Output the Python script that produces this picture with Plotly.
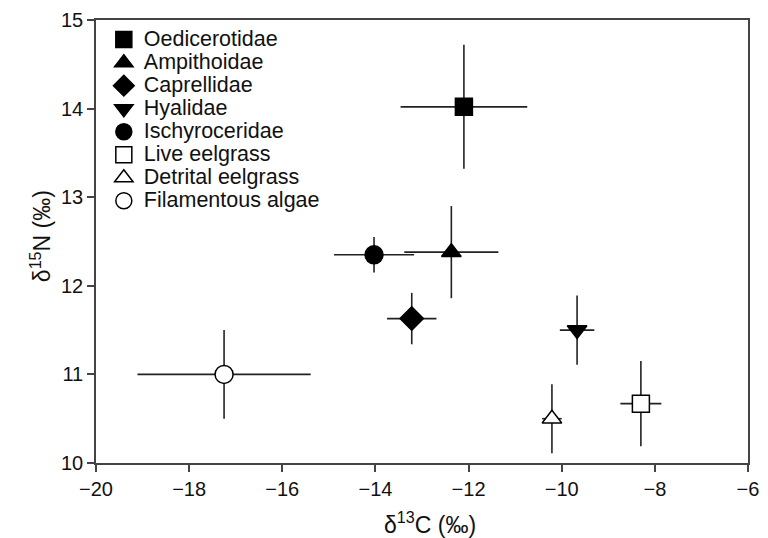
import plotly.graph_objects as go

names = ["Oedicerotidae", "Ampithoidae", "Caprellidae", "Hyalidae", "Ischyroceridae",
         "Live eelgrass", "Detrital eelgrass", "Filamentous algae"]
d13c = [-12.10, -12.37, -13.22, -9.67, -14.03, -8.30, -10.21, -17.25]
d13c_err = [1.36, 1.01, 0.53, 0.37, 0.86, 0.44, 0.21, 1.86]
d15n = [14.02, 12.38, 11.63, 11.50, 12.35, 10.67, 10.50, 11.00]
d15n_err = [0.70, 0.52, 0.29, 0.39, 0.20, 0.48, 0.39, 0.50]
symbols = ["square", "triangle-up", "diamond", "triangle-down", "circle",
           "square", "triangle-up", "circle"]
fills = ["black", "black", "black", "black", "black", "white", "white", "white"]
sizes = [17, 17, 18, 17, 18, 17, 17, 18]
x_ticks = [-20, -18, -16, -14, -12, -10, -8, -6]
y_ticks = [10, 11, 12, 13, 14, 15]
x_title = "\u03b4<sup>13</sup>C (\u2030)"
y_title = "\u03b4<sup>15</sup>N (\u2030)"

fig = go.Figure()
for i, n in enumerate(names):
    fig.add_trace(go.Scatter(
        x=[d13c[i]], y=[d15n[i]], mode="markers",
        name='<span style="font-size:21.5px">' + n + "</span>",
        marker=dict(symbol=symbols[i], size=sizes[i], color=fills[i],
                    line=dict(color="black", width=1.5)),
        error_x=dict(type="data", array=[d13c_err[i]], width=0, color="#222", thickness=1.6),
        error_y=dict(type="data", array=[d15n_err[i]], width=0, color="#222", thickness=1.6),
    ))

axis_common = dict(showline=True, linecolor="#444", linewidth=1.5, mirror=True,
                   ticks="outside", ticklen=7, tickcolor="#444", tickwidth=1.5,
                   showgrid=False, zeroline=False, automargin=False,
                   tickfont=dict(size=20, color="#111"))

fig.update_layout(
    width=760, height=530,
    margin=dict(l=88, r=20, t=12, b=75),
    paper_bgcolor="white", plot_bgcolor="white",
    font=dict(family="Liberation Sans, Arial, sans-serif", size=20, color="#111"),
    showlegend=True,
    legend=dict(x=0.012, y=0.993, xanchor="left", yanchor="top",
                bgcolor="rgba(255,255,255,0)", font=dict(size=15.4, color="#111"),
                tracegroupgap=0, itemsizing="trace"),
    xaxis=dict(range=[-20, -6], tickvals=x_ticks, ticktext=["\u2212" + str(abs(v)) for v in x_ticks],
               **axis_common),
    yaxis=dict(range=[10, 15], tickvals=y_ticks, **axis_common),
    annotations=[
        dict(text=x_title, xref="paper", yref="paper", x=0.512, y=0,
             xanchor="center", yanchor="middle", yshift=-60, showarrow=False,
             font=dict(size=23, color="#111")),
        dict(text=y_title, xref="paper", yref="paper", x=0, y=0.512,
             xanchor="center", yanchor="middle", xshift=-55, textangle=-90,
             showarrow=False, font=dict(size=23, color="#111")),
    ],
)

fig.write_html("out.html")
